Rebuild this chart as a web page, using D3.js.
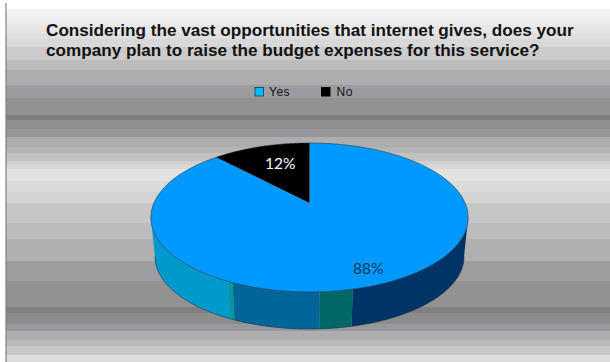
<!DOCTYPE html>
<html>
<head>
<meta charset="utf-8">
<script src="https://cdn.jsdelivr.net/npm/d3@7/dist/d3.min.js"></script>
<style>
  html, body { margin: 0; padding: 0; background: #fff; }
  svg { display: block; }
  text { font-family: "Liberation Sans", Arial, sans-serif; }
</style>
</head>
<body>
<svg id="chart" width="610" height="362"></svg>
<script>
// Survey result
const titleLines = [
  "Considering the vast opportunities that internet gives, does your",
  "company plan to raise the budget expenses for this service?"
];
const categories = ["Yes", "No"];
const shares = [88, 12];
const shareLabels = ["88%", "12%"];
const sliceColors = ["#0099ff", "#000000"];
const legendColors = ["#00bdff", "#000000"];

// Banded backdrop: top edge of each stripe and its grey
const bandEdges = [9, 17, 25, 33, 39, 47, 60, 70, 85, 98, 115, 120, 129, 137, 147, 153, 161, 165, 169, 181, 192, 203, 223, 239, 261, 281, 307, 313, 324, 331, 340, 346, 355];
const bandGreys = ["#f2f2f2", "#ececec", "#e6e6e6", "#dfdfdf", "#d8d8d8", "#cbcbcb", "#bcbcbc", "#adadad", "#9c9ca0", "#929292", "#7f7f7f", "#8f8f8f", "#95959a", "#adadad", "#b4b4b4", "#c2c2c2", "#d0d0d0", "#d8d8d8", "#e2e2e2", "#dadada", "#d4d4d4", "#c6c6c6", "#bcbcbc", "#b0b0b0", "#9d9da0", "#929292", "#808080", "#8c8c8c", "#98989c", "#adadad", "#b8b8b8", "#c8c8c8", "#dcdcdc"];

// Side wall facets of the disc, in degrees clockwise from twelve o'clock
const rimStops = [101, 167, 177, 204, 205.5, 259];
const rimColors = ["#003366", "#006666", "#006699", "#009999", "#0099cc"];

const svg = d3.select("#chart");
const W = 610, H = 362;

// Backdrop stripes
svg.selectAll("rect.band").data(bandEdges).join("rect")
  .attr("class", "band")
  .attr("x", 6)
  .attr("y", d => d)
  .attr("width", W - 6)
  .attr("height", (d, i) => (i + 1 < bandEdges.length ? bandEdges[i + 1] : H) - d)
  .attr("fill", (d, i) => bandGreys[i]);
svg.append("line")
  .attr("x1", 6).attr("x2", 6).attr("y1", 3).attr("y2", H)
  .attr("stroke", "#808080").attr("stroke-width", 1.2);

// Title
svg.selectAll("text.title").data(titleLines).join("text")
  .attr("class", "title")
  .attr("x", 46)
  .attr("y", (d, i) => 36 + i * 20)
  .attr("font-size", 17.15)
  .attr("font-weight", "bold")
  .attr("fill", "#111")
  .text(d => d);

// Legend
const legendX = [254.5, 321];
const legend = svg.selectAll("g.legend").data(categories).join("g")
  .attr("class", "legend")
  .attr("transform", (d, i) => `translate(${legendX[i]},87)`);
legend.append("rect")
  .attr("x", 0.5).attr("y", 0.5).attr("width", 8.5).attr("height", 8.5)
  .attr("fill", (d, i) => legendColors[i])
  .attr("stroke", (d, i) => i ? "#000" : "#24506a");
legend.append("text")
  .attr("x", (d, i) => i ? 15.5 : 14.5)
  .attr("y", 9)
  .attr("font-size", 12)
  .attr("letter-spacing", 0.5)
  .attr("fill", "#111")
  .text(d => d);

// Tilted disc: a circle seen in perspective, so its centre sits above the ellipse midline
const hub = { x: 309.5, y: 203 };
const spreadX = 155.7, spreadY = 71.7, tilt = 0.1946;
const wallShrink = 0.9735, wallDrop = 39.4;

function project(deg, r, lower) {
  const a = deg * Math.PI / 180;
  const u = r * Math.sin(a), v = r * Math.cos(a);
  const d = 1 + tilt * v;
  const s = lower ? wallShrink : 1;
  return [
    hub.x + s * spreadX * u / d,
    hub.y - s * spreadY * v / d + (lower ? wallDrop : 0)
  ];
}
const arcDegrees = (a, b) => d3.range(0, 61).map(i => a + (b - a) * i / 60);
const path = d3.line().curve(d3.curveLinear);

// Side wall
const facets = rimColors.map((c, i) => ({ from: rimStops[i], to: rimStops[i + 1], color: c }));
svg.selectAll("path.rim").data(facets).join("path")
  .attr("class", "rim")
  .attr("fill", d => d.color)
  .attr("d", d => {
    const deg = arcDegrees(d.from, d.to);
    return path([...deg.map(t => project(t, 1, false)), ...deg.reverse().map(t => project(t, 1, true))]) + "Z";
  });
svg.append("path")
  .attr("fill", "none")
  .attr("stroke", "#123047").attr("stroke-opacity", 0.8).attr("stroke-width", 0.7)
  .attr("d", path(arcDegrees(rimStops[0], rimStops[5]).map(t => project(t, 1, true))));

// Top face
const toDeg = d3.scaleLinear().domain([0, 2 * Math.PI]).range([0, 360]);
const slices = d3.pie().sort(null).value(d => d)(shares);
svg.selectAll("path.slice").data(slices).join("path")
  .attr("class", "slice")
  .attr("fill", (d, i) => sliceColors[i])
  .attr("d", d => path([
    project(0, 0, false),
    ...arcDegrees(toDeg(d.startAngle), toDeg(d.endAngle)).map(t => project(t, 1, false))
  ]) + "Z");
svg.append("path")
  .attr("fill", "none")
  .attr("stroke", "#123047").attr("stroke-opacity", 0.75).attr("stroke-width", 0.7)
  .attr("d", path(arcDegrees(0, 360).map(t => project(t, 1, false))) + "Z");

// Percentage labels placed along each slice's middle angle
const labelReach = [0.834, 0.66];
const labelColors = ["#1b3a57", "#ffffff"];
const labelNudge = [2.5, 4.5];
svg.selectAll("text.share").data(slices).join("text")
  .attr("class", "share")
  .attr("text-anchor", "middle")
  .attr("font-size", 15.5)
  .style("font-family", "Lato, 'Open Sans', sans-serif")
  .attr("fill", (d, i) => labelColors[i])
  .attr("x", (d, i) => project(toDeg((d.startAngle + d.endAngle) / 2), labelReach[i], false)[0] + labelNudge[i])
  .attr("y", (d, i) => project(toDeg((d.startAngle + d.endAngle) / 2), labelReach[i], false)[1] + 5.5)
  .text((d, i) => shareLabels[i]);
</script>
</body>
</html>
